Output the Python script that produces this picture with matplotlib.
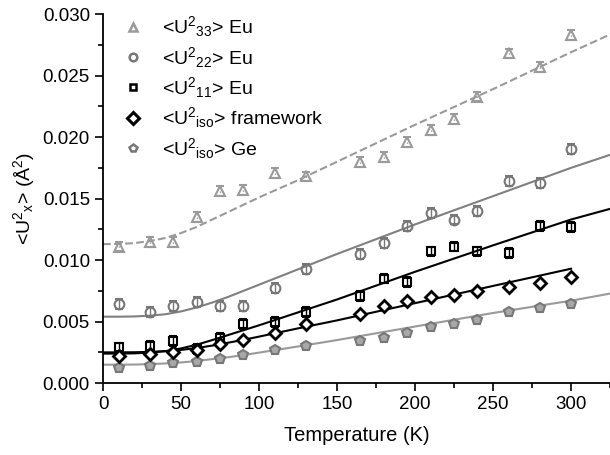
import numpy as np
import matplotlib.pyplot as plt
from matplotlib.lines import Line2D
from matplotlib.ticker import MultipleLocator, FormatStrFormatter

plt.rcParams['font.family'] = ['Liberation Sans', 'DejaVu Sans']
plt.rcParams['mathtext.fontset'] = 'custom'
plt.rcParams['mathtext.rm'] = 'Liberation Sans'
plt.rcParams['mathtext.it'] = 'Liberation Sans'

# temperatures of the measurements (K)
temps = [10, 30, 45, 60, 75, 90, 110, 130, 165, 180, 195, 210, 225, 240, 260, 280, 300]

u33_eu = [0.0111, 0.0115, 0.0115, 0.0135, 0.0156, 0.0157, 0.0171, 0.0168, 0.0180, 0.0184,
          0.0196, 0.0206, 0.0215, 0.0233, 0.0268, 0.0257, 0.0283]
u22_eu = [0.0064, 0.0058, 0.0063, 0.0066, 0.0063, 0.0063, 0.0077, 0.0093, 0.0105, 0.0114,
          0.0128, 0.0138, 0.0133, 0.0140, 0.0164, 0.0163, 0.0190]
u11_eu = [0.0029, 0.0030, 0.0034, 0.0028, 0.0037, 0.0048, 0.0050, 0.0058, 0.0071, 0.0085,
          0.0082, 0.0107, 0.0111, 0.0107, 0.0106, 0.0128, 0.0127]
uiso_fw = [0.0022, 0.0024, 0.0025, 0.0027, 0.0032, 0.0035, 0.0041, 0.0048, 0.0056, 0.0063,
           0.0067, 0.0070, 0.0072, 0.0075, 0.0078, 0.0081, 0.0086]
uiso_ge = [0.0012, 0.0014, 0.0016, 0.0017, 0.0020, 0.0023, 0.0027, 0.0030, 0.0034, 0.0037,
           0.0041, 0.0046, 0.0048, 0.0051, 0.0058, 0.0061, 0.0064]
err = 0.0004

# fitted curves
fit_t = [0, 10, 20, 30, 40, 50, 60, 70, 80, 90, 100, 125, 150, 200, 250, 300, 326]
fit_u33 = [0.01130, 0.01131, 0.01138, 0.01155, 0.01180, 0.01220, 0.01270, 0.01330, 0.01390,
           0.01450, 0.01510, 0.01650, 0.01800, 0.02100, 0.02390, 0.02690, 0.02840]
fit_u22 = [0.00540, 0.00540, 0.00542, 0.00548, 0.00560, 0.00583, 0.00615, 0.00655, 0.00700,
           0.00750, 0.00800, 0.00925, 0.01050, 0.01290, 0.01520, 0.01750, 0.01860]
fit_u11 = [0.00240, 0.00240, 0.00242, 0.00248, 0.00260, 0.00282, 0.00312, 0.00350, 0.00390,
           0.00430, 0.00470, 0.00575, 0.00680, 0.00905, 0.01120, 0.01330, 0.01420]
fit_ge = [0.00150, 0.00150, 0.00151, 0.00154, 0.00160, 0.00168, 0.00180, 0.00195, 0.00210,
          0.00228, 0.00248, 0.00298, 0.00350, 0.00460, 0.00570, 0.00670, 0.00730]
fit_fw_t = [0, 10, 20, 30, 40, 50, 60, 70, 80, 90, 100, 125, 150, 200, 250, 300]
fit_fw = [0.00250, 0.00250, 0.00251, 0.00254, 0.00260, 0.00270, 0.00285, 0.00305, 0.00328,
          0.00352, 0.00378, 0.00445, 0.00510, 0.00650, 0.00790, 0.00930]

labels = [r'<$\mathregular{U^{2}{}_{33}}$> Eu',
          r'<$\mathregular{U^{2}{}_{22}}$> Eu',
          r'<$\mathregular{U^{2}{}_{11}}$> Eu',
          r'<$\mathregular{U^{2}{}_{iso}}$> framework',
          r'<$\mathregular{U^{2}{}_{iso}}$> Ge']

fig = plt.figure(figsize=(6.1, 4.55), dpi=100)
ax = fig.add_axes([0.169, 0.158, 0.831, 0.811])

# fit lines
ax.plot(fit_t, fit_u33, '--', color='#9a9a9a', lw=1.5, zorder=1)
ax.plot(fit_t, fit_u22, '-', color='#808080', lw=1.5, zorder=1)
ax.plot(fit_t, fit_u11, '-', color='black', lw=1.5, zorder=1)
ax.plot(fit_fw_t, fit_fw, '-', color='black', lw=1.5, zorder=1)
ax.plot(fit_t, fit_ge, '-', color='#9a9a9a', lw=1.5, zorder=1)

# data points
e33 = ax.errorbar(temps, u33_eu, yerr=err, fmt='^', ms=7, mfc='none', mec='#9a9a9a', mew=1.5,
                  ecolor='#9a9a9a', elinewidth=1, capsize=3, zorder=3)
e33[-1][0].set_linestyle(':')
ax.errorbar(temps, u22_eu, yerr=err, fmt='o', ms=7, mfc='none', mec='#777777', mew=1.5,
            ecolor='#777777', elinewidth=1, capsize=3, zorder=3)
ax.errorbar(temps, u11_eu, yerr=err, fmt='s', ms=6, mfc='none', mec='black', mew=1.5,
            ecolor='black', elinewidth=1, capsize=3, zorder=3)
ax.plot(temps, uiso_fw, 'D', ms=6.5, mfc='white', mec='black', mew=2, zorder=4)
ax.plot(temps, uiso_ge, 'p', ms=7.5, mfc='#a8a8a8', mec='#777777', mew=1.5, zorder=3)

handles = [
    Line2D([], [], ls='none', marker='^', ms=6, mfc='none', mec='#9a9a9a', mew=1.8),
    Line2D([], [], ls='none', marker='o', ms=5.5, mfc='none', mec='#777777', mew=1.8),
    Line2D([], [], ls='none', marker='s', ms=5, mfc='none', mec='black', mew=1.8),
    Line2D([], [], ls='none', marker='D', ms=6, mfc='white', mec='black', mew=2.2),
    Line2D([], [], ls='none', marker='p', ms=6, mfc='white', mec='#777777', mew=1.8),
]
ax.legend(handles, labels, loc='upper left', frameon=False, fontsize=14, handletextpad=0.9,
          handlelength=1.2, labelspacing=0.28, borderaxespad=0.0, bbox_to_anchor=(0.02, 1.02))

ax.set_xlim(0, 325)
ax.set_ylim(0, 0.030)
ax.xaxis.set_major_locator(MultipleLocator(50))
ax.xaxis.set_minor_locator(MultipleLocator(25))
ax.yaxis.set_major_locator(MultipleLocator(0.005))
ax.yaxis.set_minor_locator(MultipleLocator(0.0025))
ax.yaxis.set_major_formatter(FormatStrFormatter('%.3f'))
ax.tick_params(which='major', direction='out', length=6, width=1.2, labelsize=13.5)
ax.tick_params(which='minor', direction='out', length=3.5, width=1.2)
ax.spines['top'].set_visible(False)
ax.spines['right'].set_visible(False)
ax.spines['left'].set_linewidth(1.3)
ax.spines['bottom'].set_linewidth(1.3)

ax.set_xlabel('Temperature (K)', fontsize=14.5, labelpad=9)
ax.set_ylabel(r'<$\mathregular{U^{2}{}_{x}}$> (Å$\mathregular{^{2}}$)', fontsize=14, labelpad=4)

fig.savefig('out.png', dpi=100)
